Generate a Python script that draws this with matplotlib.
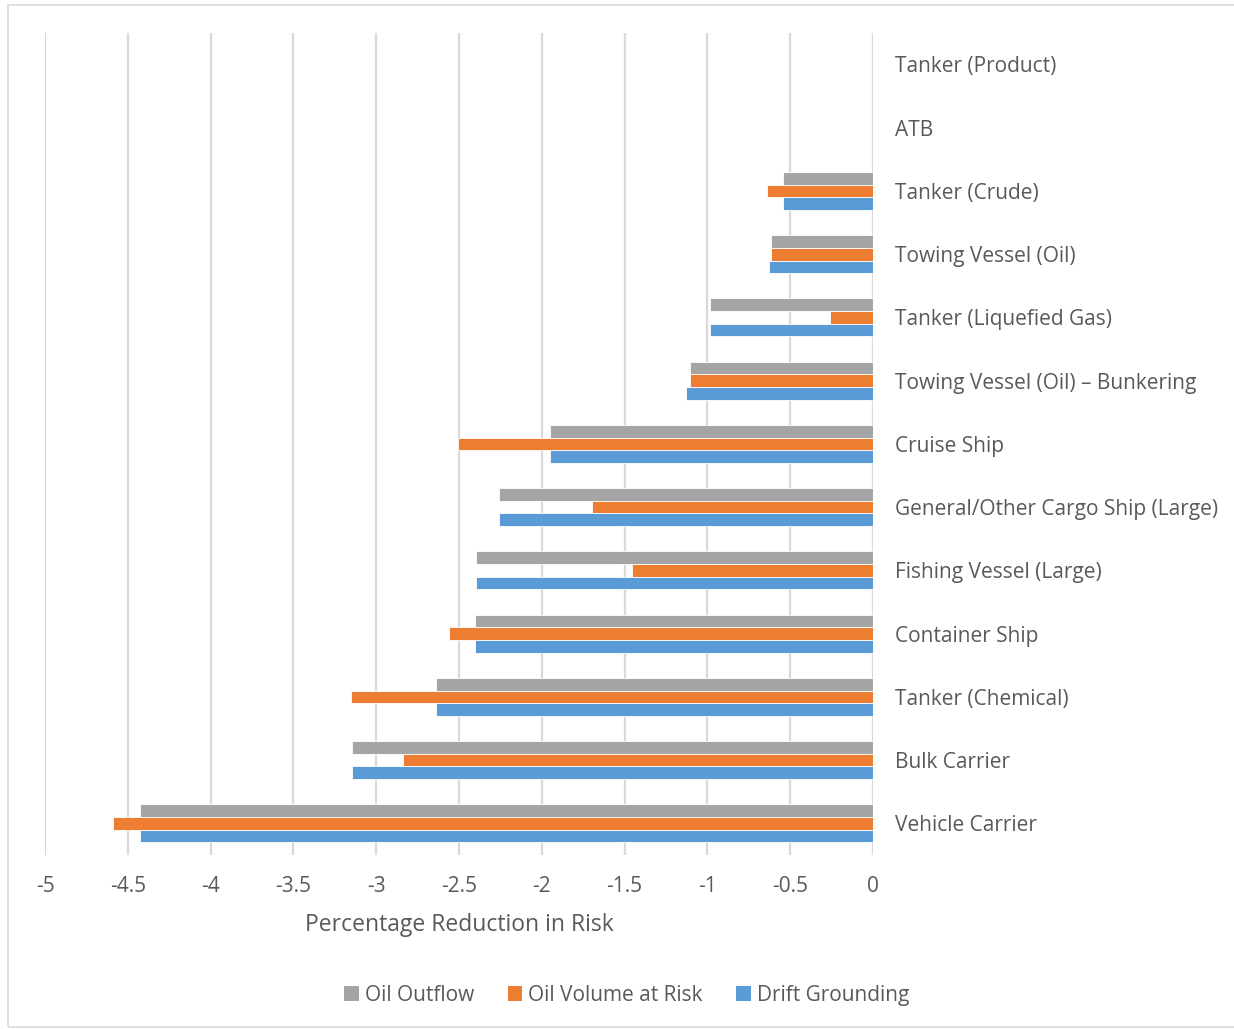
import numpy as np
import matplotlib.pyplot as plt
from matplotlib.patches import Rectangle, Patch

# vessel categories, top to bottom
vessels = ["Tanker (Product)", "ATB", "Tanker (Crude)", "Towing Vessel (Oil)",
           "Tanker (Liquefied Gas)", "Towing Vessel (Oil) \u2013 Bunkering", "Cruise Ship",
           "General/Other Cargo Ship (Large)", "Fishing Vessel (Large)", "Container Ship",
           "Tanker (Chemical)", "Bulk Carrier", "Vehicle Carrier"]

# percentage reduction in risk per measure
oil_outflow = [0, 0, -0.543, -0.619, -0.982, -1.107, -1.953, -2.259, -2.396, -2.403,
               -2.641, -3.148, -4.426]
oil_volume_at_risk = [0, 0, -0.638, -0.619, -0.259, -1.107, -2.508, -1.696, -1.453, -2.558,
                      -3.154, -2.840, -4.589]
drift_grounding = [0, 0, -0.543, -0.630, -0.982, -1.127, -1.953, -2.259, -2.396, -2.403,
                   -2.641, -3.148, -4.426]

series = ["Oil Outflow", "Oil Volume at Risk", "Drift Grounding"]
colors = ["#A5A5A5", "#ED7D31", "#5B9BD5"]
txt = "#595959"

plt.rcParams['font.family'] = ['Open Sans', 'DejaVu Sans']

fig = plt.figure(figsize=(12.34, 10.29), dpi=100)
ax = fig.add_axes([0.0365, 0.1691, 0.671, 0.799])

y = np.arange(len(vessels))
h = 0.2
for k, (vals, c) in enumerate(zip([oil_outflow, oil_volume_at_risk, drift_grounding], colors)):
    ax.barh(y + (k - 1) * h, vals, height=h, color=c, edgecolor="white", linewidth=0.6, zorder=3)

ax.set_xlim(-5, 0)
ax.set_ylim(len(vessels) - 0.5, -0.5)
ax.set_xticks(np.arange(-5, 0.01, 0.5))
ax.set_xticklabels([f"{v:g}" for v in np.arange(-5, 0.01, 0.5)])
ax.xaxis.grid(True, color="#D9D9D9", linewidth=1.6, zorder=0)
ax.yaxis.tick_right()
ax.set_yticks(y)
ax.set_yticklabels(vessels)
ax.tick_params(axis="y", length=0, pad=16, labelsize=15, labelcolor=txt)
ax.tick_params(axis="x", length=0, pad=15, labelsize=15, labelcolor=txt)
for s in ax.spines.values():
    s.set_visible(False)
ax.set_xlabel("Percentage Reduction in Risk", fontsize=16.5, color=txt, labelpad=12)

handles = [Patch(facecolor=c, label=s) for s, c in zip(series, colors)]
fig.legend(handles=handles, loc="center", bbox_to_anchor=(0.508, 0.033), ncol=3,
           frameon=False, fontsize=15, labelcolor=txt, handlelength=0.7, handleheight=0.7,
           handletextpad=0.3, columnspacing=1.6)

fig.patches.append(Rectangle((8 / 1234, 2 / 1029), 1.0, 1 - 7 / 1029, transform=fig.transFigure,
                             fill=False, edgecolor="#D9D9D9", linewidth=1.2))

fig.savefig("out.png", dpi=100)
